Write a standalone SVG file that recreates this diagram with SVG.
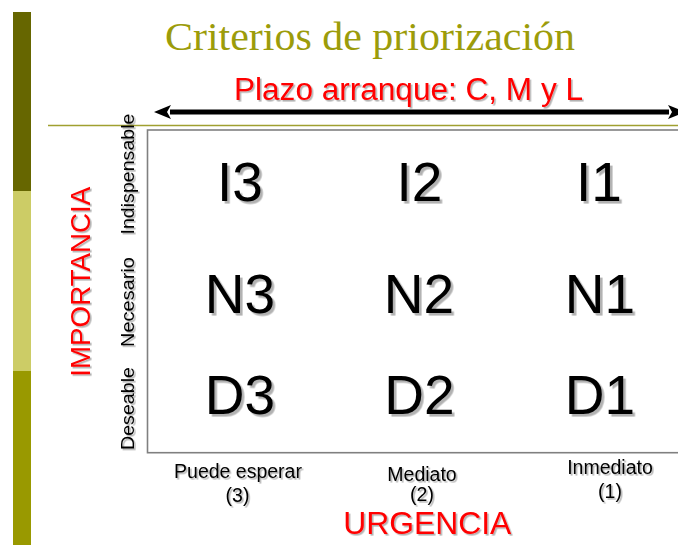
<svg xmlns="http://www.w3.org/2000/svg" width="678" height="545" viewBox="0 0 678 545">
  <defs>
    <style>
      .sans { font-family: "Liberation Sans", Arial, sans-serif; }
      .title { font-family: "Liberation Serif", "Times New Roman", serif; font-size: 41px; fill: #9c9c0a; }
      .red { fill: #ff0000; }
      .cell { font-size: 55px; fill: #000; text-anchor: middle; }
      .axis { font-size: 18px; fill: #000; text-anchor: middle; }
      .col { font-size: 19.5px; fill: #000; text-anchor: middle; }
    </style>
    <filter id="sh" x="-10%" y="-20%" width="130%" height="160%">
      <feDropShadow dx="1.6" dy="1.6" stdDeviation="0.5" flood-color="#000" flood-opacity="0.3"/>
    </filter>
    <filter id="shBig" x="-10%" y="-10%" width="130%" height="130%">
      <feDropShadow dx="2.6" dy="2.6" stdDeviation="0.7" flood-color="#000" flood-opacity="0.3"/>
    </filter>
    <marker id="head" viewBox="0 0 17 14" refX="1" refY="7" markerWidth="17" markerHeight="14" markerUnits="userSpaceOnUse" orient="auto-start-reverse">
      <path d="M17,7 L0,0 L4,7 L0,14 Z" fill="#000"/>
    </marker>
  </defs>

  <rect width="678" height="545" fill="#ffffff"/>

  <!-- left decorative bar -->
  <g id="sidebar">
    <rect x="13" y="12" width="18" height="179" fill="#666600"/>
    <rect x="13" y="191" width="18" height="180" fill="#cccc66"/>
    <rect x="13" y="371" width="18" height="174" fill="#999900"/>
  </g>

  <g id="title">
    <text class="title" x="165" y="50" textLength="410" lengthAdjust="spacingAndGlyphs">Criterios de priorización</text>
  </g>

  <line x1="48" y1="125.5" x2="678" y2="125.5" stroke="#a0a030" stroke-width="1.5"/>

  <g id="plazo" filter="url(#sh)">
    <text class="sans red" x="234" y="100" font-size="31" textLength="349" lengthAdjust="spacingAndGlyphs">Plazo arranque: C, M y L</text>
  </g>

  <!-- connectors -->
  <g id="connectors">
    <line x1="170" y1="112" x2="669" y2="112" stroke="#000" stroke-width="4.8" marker-start="url(#head)" marker-end="url(#head)"/>
  </g>

  <!-- matrix frame -->
  <g id="matrix">
    <rect x="147.5" y="130" width="560" height="322.7" fill="#ffffff" stroke="#808080" stroke-width="1.6"/>
  </g>

  <!-- cells -->
  <g id="cell-I3" filter="url(#shBig)"><text class="sans cell" x="240" y="201">I3</text></g>
  <g id="cell-I2" filter="url(#shBig)"><text class="sans cell" x="419.5" y="201">I2</text></g>
  <g id="cell-I1" filter="url(#shBig)"><text class="sans cell" x="599" y="201">I1</text></g>
  <g id="cell-N3" filter="url(#shBig)"><text class="sans cell" x="240" y="312.5">N3</text></g>
  <g id="cell-N2" filter="url(#shBig)"><text class="sans cell" x="419" y="312.5">N2</text></g>
  <g id="cell-N1" filter="url(#shBig)"><text class="sans cell" x="600" y="312.5">N1</text></g>
  <g id="cell-D3" filter="url(#shBig)"><text class="sans cell" x="240" y="413.5">D3</text></g>
  <g id="cell-D2" filter="url(#shBig)"><text class="sans cell" x="419.5" y="413.5">D2</text></g>
  <g id="cell-D1" filter="url(#shBig)"><text class="sans cell" x="600" y="413.5">D1</text></g>

  <!-- row labels -->
  <g id="row-indispensable" filter="url(#sh)">
    <text class="sans axis" transform="translate(134,174) rotate(-90)" textLength="121" lengthAdjust="spacingAndGlyphs">Indispensable</text>
  </g>
  <g id="row-necesario" filter="url(#sh)">
    <text class="sans axis" transform="translate(134,302) rotate(-90)" textLength="90" lengthAdjust="spacingAndGlyphs">Necesario</text>
  </g>
  <g id="row-deseable" filter="url(#sh)">
    <text class="sans axis" transform="translate(134,408.5) rotate(-90)" textLength="83" lengthAdjust="spacingAndGlyphs">Deseable</text>
  </g>
  <g id="axis-importancia" filter="url(#sh)">
    <text class="sans red" transform="translate(90,281.7) rotate(-90)" font-size="28" text-anchor="middle" textLength="190" lengthAdjust="spacingAndGlyphs">IMPORTANCIA</text>
  </g>

  <!-- column labels -->
  <g id="col-puede" filter="url(#sh)">
    <text class="sans col" x="238" y="478.3">Puede esperar</text>
    <text class="sans col" x="237.5" y="502">(3)</text>
  </g>
  <g id="col-mediato" filter="url(#sh)">
    <text class="sans col" x="422" y="480.7">Mediato</text>
    <text class="sans col" x="422" y="501">(2)</text>
  </g>
  <g id="col-inmediato" filter="url(#sh)">
    <text class="sans col" x="610" y="474.3">Inmediato</text>
    <text class="sans col" x="610" y="497.8">(1)</text>
  </g>
  <g id="axis-urgencia" filter="url(#sh)">
    <text class="sans red" x="343.3" y="534" font-size="31" textLength="168" lengthAdjust="spacingAndGlyphs">URGENCIA</text>
  </g>
</svg>
